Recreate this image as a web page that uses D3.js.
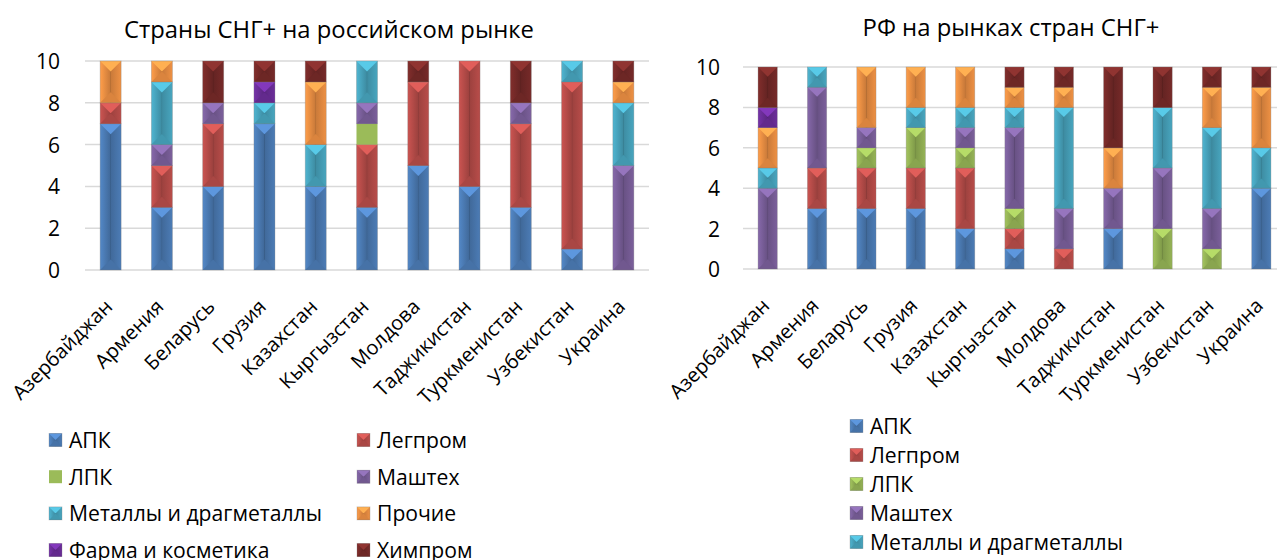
<!DOCTYPE html>
<html>
<head>
<meta charset="utf-8">
<script src="https://cdn.jsdelivr.net/npm/d3@7"></script>
<style>
  html, body { margin: 0; padding: 0; background: #fff; }
  svg { display: block; }
  text { font-family: "Open Sans", sans-serif; fill: #000; }
</style>
</head>
<body>
<svg id="chart" width="1277" height="560"></svg>
<script>
// categories shared by both charts
var countries = ['Азербайджан', 'Армения', 'Беларусь', 'Грузия', 'Казахстан', 'Кыргызстан',
  'Молдова', 'Таджикистан', 'Туркменистан', 'Узбекистан', 'Украина'];

var sectors = ['АПК', 'Легпром', 'ЛПК', 'Маштех', 'Металлы и драгметаллы', 'Прочие',
  'Фарма и косметика', 'Химпром'];

var sectorColors = ['#4f81bd', '#c0504d', '#9bbb59', '#8064a2', '#4bacc6', '#f79646', '#7030a0', '#7b2c2a'];

var yTicks = [0, 2, 4, 6, 8, 10];

// "Страны СНГ+ на российском рынке", one array per sector, in country order
var cisApk     = [7, 3, 4, 7, 4, 3, 5, 4, 3, 1, 0];
var cisLegprom = [1, 2, 3, 0, 0, 3, 4, 6, 4, 8, 0];
var cisLpk     = [0, 0, 0, 0, 0, 1, 0, 0, 0, 0, 0];
var cisMashtech= [0, 1, 1, 0, 0, 1, 0, 0, 1, 0, 5];
var cisMetals  = [0, 3, 0, 1, 2, 2, 0, 0, 0, 1, 3];
var cisOther   = [2, 1, 0, 0, 3, 0, 0, 0, 0, 0, 1];
var cisPharma  = [0, 0, 0, 1, 0, 0, 0, 0, 0, 0, 0];
var cisChem    = [0, 0, 2, 1, 1, 0, 1, 0, 2, 0, 1];

// "РФ на рынках стран СНГ+"
var rfApk      = [0, 3, 3, 3, 2, 1, 0, 2, 0, 0, 4];
var rfLegprom  = [0, 2, 2, 2, 3, 1, 1, 0, 0, 0, 0];
var rfLpk      = [0, 0, 1, 2, 1, 1, 0, 0, 2, 1, 0];
var rfMashtech = [4, 4, 1, 0, 1, 4, 2, 2, 3, 2, 0];
var rfMetals   = [1, 1, 0, 1, 1, 1, 5, 0, 3, 4, 2];
var rfOther    = [2, 0, 3, 2, 2, 1, 1, 2, 0, 2, 3];
var rfPharma   = [1, 0, 0, 0, 0, 0, 0, 0, 0, 0, 0];
var rfChem     = [2, 0, 0, 0, 0, 1, 1, 4, 2, 1, 1];

var svg = d3.select('#chart');
var defs = svg.append('defs');

// horizontal shading used for the bevelled look
sectorColors.forEach(function (c, i) {
  var col = d3.color(c);
  var g = defs.append('linearGradient').attr('id', 'bev' + i)
    .attr('x1', 0).attr('x2', 1).attr('y1', 0).attr('y2', 0);
  g.append('stop').attr('offset', '0%').attr('stop-color', col.brighter(0.15));
  g.append('stop').attr('offset', '47%').attr('stop-color', col.darker(0.55));
  g.append('stop').attr('offset', '50%').attr('stop-color', col.darker(0.9));
  g.append('stop').attr('offset', '53%').attr('stop-color', col.darker(0.55));
  g.append('stop').attr('offset', '100%').attr('stop-color', col.darker(0.1));
});

function bevelBox(sel, x, y, w, h, si, flat) {
  var c = d3.color(sectorColors[si]);
  if (flat) {
    sel.append('rect').attr('x', x).attr('y', y).attr('width', w).attr('height', h).attr('fill', c);
    return;
  }
  var b = Math.min(w / 2, h / 2);
  sel.append('rect').attr('x', x).attr('y', y).attr('width', w).attr('height', h)
    .attr('fill', 'url(#bev' + si + ')');
  sel.append('path')
    .attr('d', 'M' + x + ',' + y + 'L' + (x + w) + ',' + y + 'L' + (x + w / 2) + ',' + (y + b) + 'Z')
    .attr('fill', c.brighter(0.45));
  sel.append('path')
    .attr('d', 'M' + x + ',' + (y + h) + 'L' + (x + w) + ',' + (y + h) + 'L' + (x + w / 2) + ',' + (y + h - b) + 'Z')
    .attr('fill', c.darker(0.35));
  sel.append('rect').attr('x', x).attr('y', y).attr('width', w).attr('height', h)
    .attr('fill', 'none').attr('stroke', 'rgba(120,120,120,0.35)').attr('stroke-width', 0.8);
}

// shrink/grow a text's font so it spans the given width
function fitWidth(text, width) {
  var size = parseFloat(text.attr('font-size'));
  var len = text.node().getComputedTextLength();
  text.attr('font-size', (size * width / len).toFixed(2));
}

var legendSize = null;

function drawChart(o) {
  var g = svg.append('g');
  var x = d3.scaleBand().domain(countries).range(o.xRange).paddingInner(o.pad).paddingOuter(o.pad / 2);
  var y = d3.scaleLinear().domain([0, 10]).range(o.yRange);

  // gridlines
  g.append('g').selectAll('line').data(yTicks).join('line')
    .attr('x1', o.xRange[0]).attr('x2', o.xRange[1])
    .attr('y1', function (d) { return y(d); }).attr('y2', function (d) { return y(d); })
    .attr('stroke', '#d9d9d9').attr('stroke-width', 1.5);

  // y axis labels
  var yAxis = d3.axisLeft(y).tickValues(yTicks).tickSize(0).tickPadding(0);
  g.append('g').attr('transform', 'translate(' + o.yLabelX + ',0)').call(yAxis)
    .call(function (s) { s.select('.domain').remove(); })
    .selectAll('text').attr('font-family', null).attr('font-size', 21).attr('fill', '#000').attr('dy', '0.36em');

  // stacked bars
  var table = countries.map(function (c, i) {
    var row = { country: c };
    sectors.forEach(function (s, j) { row[s] = o.values[j][i]; });
    return row;
  });
  var stacked = d3.stack().keys(sectors)(table);
  var bars = g.append('g');
  stacked.forEach(function (layer, si) {
    layer.forEach(function (d) {
      if (d[1] - d[0] <= 0) return;
      var x0 = x(d.data.country);
      bevelBox(bars, x0, y(d[1]), x.bandwidth(), y(d[0]) - y(d[1]), si, o.flat.indexOf(sectors[si]) >= 0);
    });
  });

  // category labels
  g.append('g').selectAll('text').data(countries).join('text')
    .attr('font-size', 20).attr('text-anchor', 'end')
    .attr('transform', function (d) {
      return 'translate(' + (x(d) + x.bandwidth() / 2 + 3) + ',' + (o.yRange[0] + 38) + ') rotate(-45)';
    })
    .text(function (d) { return d; });

  // title
  var title = g.append('text').attr('x', o.titleX).attr('y', o.titleY)
    .attr('text-anchor', 'middle').attr('font-size', 22).text(o.title);
  fitWidth(title, o.titleWidth);

  // legend
  var leg = g.append('g').selectAll('g').data(sectors).join('g')
    .attr('transform', function (d, i) { return 'translate(' + o.legPos(i)[0] + ',' + o.legPos(i)[1] + ')'; });
  leg.each(function (d, i) {
    bevelBox(d3.select(this), 0, -6.5, 13, 13, i, o.flat.indexOf(d) >= 0);
  });
  var legText = leg.append('text').attr('x', 20).attr('y', 8).attr('font-size', 20)
    .text(function (d) { return d; });
  if (legendSize === null) {
    var widest = legText.filter(function (d) { return d === 'Металлы и драгметаллы'; });
    fitWidth(widest, 253);
    legendSize = widest.attr('font-size');
  }
  legText.attr('font-size', legendSize);
}

drawChart({
  values: [cisApk, cisLegprom, cisLpk, cisMashtech, cisMetals, cisOther, cisPharma, cisChem],
  xRange: [85, 649], yRange: [270, 61], pad: 0.59, yLabelX: 60,
  title: 'Страны СНГ+ на российском рынке', titleX: 329, titleY: 38, titleWidth: 410,
  flat: ['ЛПК'],
  legPos: function (i) { return [49 + (i % 2) * 308, 440 + Math.floor(i / 2) * 36.7]; }
});

drawChart({
  values: [rfApk, rfLegprom, rfLpk, rfMashtech, rfMetals, rfOther, rfPharma, rfChem],
  xRange: [743, 1286], yRange: [269, 67], pad: 0.61, yLabelX: 720,
  title: 'РФ на рынках стран СНГ+', titleX: 1011, titleY: 36, titleWidth: 297,
  flat: [],
  legPos: function (i) { return [850, 426 + i * 29]; }
});
</script>
</body>
</html>
